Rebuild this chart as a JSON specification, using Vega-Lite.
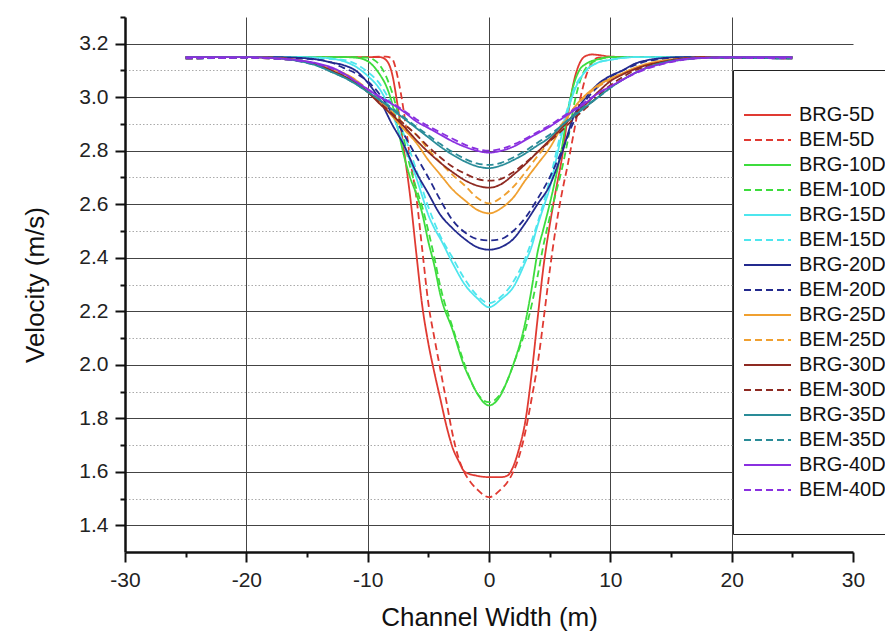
{
"$schema": "https://vega.github.io/schema/vega-lite/v6.json",
"width": 728, "height": 535,
"autosize": {"type": "none"},
"padding": {"left": 125, "top": 17, "right": 32, "bottom": 83},
"background": "white",
"config": {"view": {"stroke": null}, "font": "Liberation Sans",
 "legend": {"orient": "none", "legendX": 608, "legendY": 53, "direction": "vertical", "strokeColor": "#222", "fillColor": "white", "padding": 34, "cornerRadius": 0, "labelFontSize": 20, "labelColor": "#111", "labelFont": "Liberation Sans", "symbolType": "M-3.4,0H1.3", "symbolSize": 400, "symbolStrokeWidth": 1.8, "labelOffset": 10, "rowPadding": 4, "labelLimit": 300}},
"data": {"values": [
{"s":"BRG-5D","x":-25,"v":3.15},{"s":"BRG-5D","x":-20,"v":3.15},{"s":"BRG-5D","x":-15,"v":3.15},{"s":"BRG-5D","x":-12,"v":3.15},{"s":"BRG-5D","x":-10,"v":3.15},{"s":"BRG-5D","x":-9,"v":3.15},{"s":"BRG-5D","x":-8.5,"v":3.14},{"s":"BRG-5D","x":-8,"v":3.09},{"s":"BRG-5D","x":-7.5,"v":2.96},{"s":"BRG-5D","x":-7,"v":2.8},{"s":"BRG-5D","x":-6.5,"v":2.63},{"s":"BRG-5D","x":-6,"v":2.42},{"s":"BRG-5D","x":-5.5,"v":2.22},{"s":"BRG-5D","x":-5,"v":2.08},{"s":"BRG-5D","x":-4.5,"v":1.97},{"s":"BRG-5D","x":-4,"v":1.87},{"s":"BRG-5D","x":-3.5,"v":1.77},{"s":"BRG-5D","x":-3,"v":1.69},{"s":"BRG-5D","x":-2.5,"v":1.64},{"s":"BRG-5D","x":-2,"v":1.6},{"s":"BRG-5D","x":-1,"v":1.585},{"s":"BRG-5D","x":0,"v":1.58},{"s":"BRG-5D","x":1,"v":1.58},{"s":"BRG-5D","x":1.5,"v":1.585},{"s":"BRG-5D","x":2,"v":1.62},{"s":"BRG-5D","x":2.5,"v":1.69},{"s":"BRG-5D","x":3,"v":1.79},{"s":"BRG-5D","x":3.5,"v":1.96},{"s":"BRG-5D","x":4,"v":2.17},{"s":"BRG-5D","x":4.5,"v":2.37},{"s":"BRG-5D","x":5,"v":2.52},{"s":"BRG-5D","x":5.5,"v":2.65},{"s":"BRG-5D","x":6,"v":2.77},{"s":"BRG-5D","x":6.5,"v":2.93},{"s":"BRG-5D","x":7,"v":3.06},{"s":"BRG-5D","x":7.5,"v":3.13},{"s":"BRG-5D","x":8,"v":3.155},{"s":"BRG-5D","x":8.5,"v":3.16},{"s":"BRG-5D","x":9,"v":3.158},{"s":"BRG-5D","x":10,"v":3.152},{"s":"BRG-5D","x":12,"v":3.15},{"s":"BRG-5D","x":15,"v":3.15},{"s":"BRG-5D","x":20,"v":3.15},{"s":"BRG-5D","x":25,"v":3.15},
{"s":"BEM-5D","x":-25,"v":3.145},{"s":"BEM-5D","x":-20,"v":3.148},{"s":"BEM-5D","x":-15,"v":3.15},{"s":"BEM-5D","x":-12,"v":3.15},{"s":"BEM-5D","x":-10,"v":3.15},{"s":"BEM-5D","x":-9,"v":3.152},{"s":"BEM-5D","x":-8.5,"v":3.152},{"s":"BEM-5D","x":-8,"v":3.145},{"s":"BEM-5D","x":-7.5,"v":3.07},{"s":"BEM-5D","x":-7,"v":2.94},{"s":"BEM-5D","x":-6.5,"v":2.77},{"s":"BEM-5D","x":-6,"v":2.63},{"s":"BEM-5D","x":-5.5,"v":2.43},{"s":"BEM-5D","x":-5,"v":2.23},{"s":"BEM-5D","x":-4.5,"v":2.1},{"s":"BEM-5D","x":-4,"v":1.98},{"s":"BEM-5D","x":-3.5,"v":1.86},{"s":"BEM-5D","x":-3,"v":1.74},{"s":"BEM-5D","x":-2.5,"v":1.65},{"s":"BEM-5D","x":-2,"v":1.595},{"s":"BEM-5D","x":-1.5,"v":1.56},{"s":"BEM-5D","x":-1,"v":1.535},{"s":"BEM-5D","x":0,"v":1.505},{"s":"BEM-5D","x":1,"v":1.535},{"s":"BEM-5D","x":1.5,"v":1.56},{"s":"BEM-5D","x":2,"v":1.6},{"s":"BEM-5D","x":2.5,"v":1.66},{"s":"BEM-5D","x":3,"v":1.75},{"s":"BEM-5D","x":3.5,"v":1.87},{"s":"BEM-5D","x":4,"v":2.0},{"s":"BEM-5D","x":4.5,"v":2.17},{"s":"BEM-5D","x":5,"v":2.35},{"s":"BEM-5D","x":5.5,"v":2.51},{"s":"BEM-5D","x":6,"v":2.64},{"s":"BEM-5D","x":6.5,"v":2.75},{"s":"BEM-5D","x":7,"v":2.87},{"s":"BEM-5D","x":7.5,"v":2.99},{"s":"BEM-5D","x":8,"v":3.08},{"s":"BEM-5D","x":8.5,"v":3.13},{"s":"BEM-5D","x":9,"v":3.148},{"s":"BEM-5D","x":10,"v":3.15},{"s":"BEM-5D","x":12,"v":3.15},{"s":"BEM-5D","x":15,"v":3.15},{"s":"BEM-5D","x":20,"v":3.148},{"s":"BEM-5D","x":25,"v":3.145},
{"s":"BRG-10D","x":-25,"v":3.15},{"s":"BRG-10D","x":-20,"v":3.15},{"s":"BRG-10D","x":-15,"v":3.15},{"s":"BRG-10D","x":-12,"v":3.15},{"s":"BRG-10D","x":-11,"v":3.148},{"s":"BRG-10D","x":-10,"v":3.135},{"s":"BRG-10D","x":-9.5,"v":3.115},{"s":"BRG-10D","x":-9,"v":3.085},{"s":"BRG-10D","x":-8.5,"v":3.045},{"s":"BRG-10D","x":-8,"v":2.98},{"s":"BRG-10D","x":-7.5,"v":2.88},{"s":"BRG-10D","x":-7,"v":2.78},{"s":"BRG-10D","x":-6.5,"v":2.7},{"s":"BRG-10D","x":-6,"v":2.64},{"s":"BRG-10D","x":-5.5,"v":2.565},{"s":"BRG-10D","x":-5,"v":2.46},{"s":"BRG-10D","x":-4.5,"v":2.37},{"s":"BRG-10D","x":-4,"v":2.26},{"s":"BRG-10D","x":-3,"v":2.13},{"s":"BRG-10D","x":-2,"v":1.99},{"s":"BRG-10D","x":-1.5,"v":1.94},{"s":"BRG-10D","x":-1,"v":1.895},{"s":"BRG-10D","x":0,"v":1.848},{"s":"BRG-10D","x":1,"v":1.89},{"s":"BRG-10D","x":1.5,"v":1.94},{"s":"BRG-10D","x":2,"v":2.0},{"s":"BRG-10D","x":3,"v":2.16},{"s":"BRG-10D","x":3.5,"v":2.28},{"s":"BRG-10D","x":4,"v":2.42},{"s":"BRG-10D","x":4.5,"v":2.51},{"s":"BRG-10D","x":5,"v":2.6},{"s":"BRG-10D","x":5.5,"v":2.7},{"s":"BRG-10D","x":6,"v":2.81},{"s":"BRG-10D","x":6.5,"v":2.95},{"s":"BRG-10D","x":7,"v":3.05},{"s":"BRG-10D","x":7.5,"v":3.105},{"s":"BRG-10D","x":8,"v":3.125},{"s":"BRG-10D","x":9,"v":3.142},{"s":"BRG-10D","x":10,"v":3.15},{"s":"BRG-10D","x":12,"v":3.15},{"s":"BRG-10D","x":15,"v":3.15},{"s":"BRG-10D","x":20,"v":3.15},{"s":"BRG-10D","x":25,"v":3.15},
{"s":"BEM-10D","x":-25,"v":3.145},{"s":"BEM-10D","x":-20,"v":3.148},{"s":"BEM-10D","x":-15,"v":3.15},{"s":"BEM-10D","x":-12,"v":3.15},{"s":"BEM-10D","x":-11,"v":3.15},{"s":"BEM-10D","x":-10,"v":3.148},{"s":"BEM-10D","x":-9.5,"v":3.14},{"s":"BEM-10D","x":-9,"v":3.12},{"s":"BEM-10D","x":-8.5,"v":3.08},{"s":"BEM-10D","x":-8,"v":3.02},{"s":"BEM-10D","x":-7.5,"v":2.94},{"s":"BEM-10D","x":-7,"v":2.84},{"s":"BEM-10D","x":-6.5,"v":2.74},{"s":"BEM-10D","x":-6,"v":2.66},{"s":"BEM-10D","x":-5.5,"v":2.59},{"s":"BEM-10D","x":-5,"v":2.5},{"s":"BEM-10D","x":-4.5,"v":2.4},{"s":"BEM-10D","x":-4,"v":2.29},{"s":"BEM-10D","x":-3,"v":2.14},{"s":"BEM-10D","x":-2,"v":2.0},{"s":"BEM-10D","x":-1.5,"v":1.94},{"s":"BEM-10D","x":-1,"v":1.895},{"s":"BEM-10D","x":0,"v":1.86},{"s":"BEM-10D","x":1,"v":1.895},{"s":"BEM-10D","x":1.5,"v":1.94},{"s":"BEM-10D","x":2,"v":2.0},{"s":"BEM-10D","x":3,"v":2.13},{"s":"BEM-10D","x":3.5,"v":2.22},{"s":"BEM-10D","x":4,"v":2.33},{"s":"BEM-10D","x":4.5,"v":2.45},{"s":"BEM-10D","x":5,"v":2.55},{"s":"BEM-10D","x":5.5,"v":2.64},{"s":"BEM-10D","x":6,"v":2.73},{"s":"BEM-10D","x":6.5,"v":2.84},{"s":"BEM-10D","x":7,"v":2.97},{"s":"BEM-10D","x":7.5,"v":3.06},{"s":"BEM-10D","x":8,"v":3.11},{"s":"BEM-10D","x":9,"v":3.14},{"s":"BEM-10D","x":10,"v":3.15},{"s":"BEM-10D","x":12,"v":3.15},{"s":"BEM-10D","x":15,"v":3.15},{"s":"BEM-10D","x":20,"v":3.148},{"s":"BEM-10D","x":25,"v":3.145},
{"s":"BRG-15D","x":-25,"v":3.15},{"s":"BRG-15D","x":-20,"v":3.15},{"s":"BRG-15D","x":-18,"v":3.15},{"s":"BRG-15D","x":-16,"v":3.15},{"s":"BRG-15D","x":-14,"v":3.148},{"s":"BRG-15D","x":-13,"v":3.145},{"s":"BRG-15D","x":-12,"v":3.135},{"s":"BRG-15D","x":-11,"v":3.115},{"s":"BRG-15D","x":-10,"v":3.08},{"s":"BRG-15D","x":-9,"v":3.03},{"s":"BRG-15D","x":-8,"v":2.94},{"s":"BRG-15D","x":-7,"v":2.82},{"s":"BRG-15D","x":-6,"v":2.7},{"s":"BRG-15D","x":-5.5,"v":2.63},{"s":"BRG-15D","x":-5,"v":2.56},{"s":"BRG-15D","x":-4.5,"v":2.51},{"s":"BRG-15D","x":-4,"v":2.47},{"s":"BRG-15D","x":-3,"v":2.38},{"s":"BRG-15D","x":-2,"v":2.3},{"s":"BRG-15D","x":-1,"v":2.25},{"s":"BRG-15D","x":0,"v":2.215},{"s":"BRG-15D","x":1,"v":2.245},{"s":"BRG-15D","x":2,"v":2.29},{"s":"BRG-15D","x":3,"v":2.385},{"s":"BRG-15D","x":3.5,"v":2.44},{"s":"BRG-15D","x":4,"v":2.52},{"s":"BRG-15D","x":4.5,"v":2.59},{"s":"BRG-15D","x":5,"v":2.66},{"s":"BRG-15D","x":5.5,"v":2.76},{"s":"BRG-15D","x":6,"v":2.86},{"s":"BRG-15D","x":6.5,"v":2.95},{"s":"BRG-15D","x":7,"v":3.02},{"s":"BRG-15D","x":8,"v":3.1},{"s":"BRG-15D","x":9,"v":3.13},{"s":"BRG-15D","x":10,"v":3.14},{"s":"BRG-15D","x":11,"v":3.147},{"s":"BRG-15D","x":12,"v":3.15},{"s":"BRG-15D","x":14,"v":3.15},{"s":"BRG-15D","x":16,"v":3.15},{"s":"BRG-15D","x":20,"v":3.15},{"s":"BRG-15D","x":25,"v":3.15},
{"s":"BEM-15D","x":-25,"v":3.145},{"s":"BEM-15D","x":-20,"v":3.148},{"s":"BEM-15D","x":-18,"v":3.15},{"s":"BEM-15D","x":-16,"v":3.15},{"s":"BEM-15D","x":-14,"v":3.147},{"s":"BEM-15D","x":-13,"v":3.143},{"s":"BEM-15D","x":-12,"v":3.14},{"s":"BEM-15D","x":-11,"v":3.125},{"s":"BEM-15D","x":-10,"v":3.095},{"s":"BEM-15D","x":-9,"v":3.05},{"s":"BEM-15D","x":-8,"v":2.97},{"s":"BEM-15D","x":-7,"v":2.86},{"s":"BEM-15D","x":-6,"v":2.73},{"s":"BEM-15D","x":-5,"v":2.59},{"s":"BEM-15D","x":-4,"v":2.48},{"s":"BEM-15D","x":-3,"v":2.4},{"s":"BEM-15D","x":-2,"v":2.32},{"s":"BEM-15D","x":-1,"v":2.26},{"s":"BEM-15D","x":0,"v":2.23},{"s":"BEM-15D","x":1,"v":2.255},{"s":"BEM-15D","x":2,"v":2.31},{"s":"BEM-15D","x":3,"v":2.4},{"s":"BEM-15D","x":4,"v":2.53},{"s":"BEM-15D","x":5,"v":2.69},{"s":"BEM-15D","x":6,"v":2.88},{"s":"BEM-15D","x":7,"v":3.03},{"s":"BEM-15D","x":8,"v":3.1},{"s":"BEM-15D","x":9,"v":3.13},{"s":"BEM-15D","x":10,"v":3.14},{"s":"BEM-15D","x":11,"v":3.147},{"s":"BEM-15D","x":12,"v":3.15},{"s":"BEM-15D","x":14,"v":3.15},{"s":"BEM-15D","x":16,"v":3.15},{"s":"BEM-15D","x":20,"v":3.148},{"s":"BEM-15D","x":25,"v":3.145},
{"s":"BRG-20D","x":-25,"v":3.15},{"s":"BRG-20D","x":-20,"v":3.15},{"s":"BRG-20D","x":-18,"v":3.15},{"s":"BRG-20D","x":-16,"v":3.148},{"s":"BRG-20D","x":-14,"v":3.14},{"s":"BRG-20D","x":-13,"v":3.13},{"s":"BRG-20D","x":-12,"v":3.12},{"s":"BRG-20D","x":-11,"v":3.1},{"s":"BRG-20D","x":-10,"v":3.055},{"s":"BRG-20D","x":-9,"v":2.99},{"s":"BRG-20D","x":-8,"v":2.9},{"s":"BRG-20D","x":-7,"v":2.82},{"s":"BRG-20D","x":-6,"v":2.72},{"s":"BRG-20D","x":-5,"v":2.64},{"s":"BRG-20D","x":-4,"v":2.56},{"s":"BRG-20D","x":-3,"v":2.51},{"s":"BRG-20D","x":-2,"v":2.47},{"s":"BRG-20D","x":-1,"v":2.44},{"s":"BRG-20D","x":0,"v":2.43},{"s":"BRG-20D","x":1,"v":2.44},{"s":"BRG-20D","x":2,"v":2.47},{"s":"BRG-20D","x":3,"v":2.53},{"s":"BRG-20D","x":4,"v":2.6},{"s":"BRG-20D","x":5,"v":2.67},{"s":"BRG-20D","x":6,"v":2.79},{"s":"BRG-20D","x":7,"v":2.93},{"s":"BRG-20D","x":8,"v":3.0},{"s":"BRG-20D","x":9,"v":3.05},{"s":"BRG-20D","x":10,"v":3.08},{"s":"BRG-20D","x":11,"v":3.1},{"s":"BRG-20D","x":12,"v":3.125},{"s":"BRG-20D","x":13,"v":3.138},{"s":"BRG-20D","x":14,"v":3.145},{"s":"BRG-20D","x":16,"v":3.15},{"s":"BRG-20D","x":18,"v":3.15},{"s":"BRG-20D","x":20,"v":3.15},{"s":"BRG-20D","x":25,"v":3.15},
{"s":"BEM-20D","x":-25,"v":3.145},{"s":"BEM-20D","x":-20,"v":3.148},{"s":"BEM-20D","x":-18,"v":3.148},{"s":"BEM-20D","x":-16,"v":3.145},{"s":"BEM-20D","x":-14,"v":3.14},{"s":"BEM-20D","x":-13,"v":3.13},{"s":"BEM-20D","x":-12,"v":3.11},{"s":"BEM-20D","x":-11,"v":3.09},{"s":"BEM-20D","x":-10,"v":3.06},{"s":"BEM-20D","x":-9,"v":3.01},{"s":"BEM-20D","x":-8,"v":2.94},{"s":"BEM-20D","x":-7,"v":2.86},{"s":"BEM-20D","x":-6,"v":2.78},{"s":"BEM-20D","x":-5,"v":2.7},{"s":"BEM-20D","x":-4,"v":2.615},{"s":"BEM-20D","x":-3,"v":2.54},{"s":"BEM-20D","x":-2,"v":2.495},{"s":"BEM-20D","x":-1,"v":2.47},{"s":"BEM-20D","x":0,"v":2.465},{"s":"BEM-20D","x":1,"v":2.47},{"s":"BEM-20D","x":2,"v":2.5},{"s":"BEM-20D","x":3,"v":2.55},{"s":"BEM-20D","x":4,"v":2.62},{"s":"BEM-20D","x":5,"v":2.7},{"s":"BEM-20D","x":6,"v":2.8},{"s":"BEM-20D","x":7,"v":2.91},{"s":"BEM-20D","x":8,"v":2.99},{"s":"BEM-20D","x":9,"v":3.04},{"s":"BEM-20D","x":10,"v":3.075},{"s":"BEM-20D","x":11,"v":3.1},{"s":"BEM-20D","x":12,"v":3.12},{"s":"BEM-20D","x":13,"v":3.135},{"s":"BEM-20D","x":14,"v":3.142},{"s":"BEM-20D","x":16,"v":3.148},{"s":"BEM-20D","x":18,"v":3.15},{"s":"BEM-20D","x":20,"v":3.148},{"s":"BEM-20D","x":25,"v":3.145},
{"s":"BRG-25D","x":-25,"v":3.15},{"s":"BRG-25D","x":-20,"v":3.15},{"s":"BRG-25D","x":-18,"v":3.148},{"s":"BRG-25D","x":-16,"v":3.14},{"s":"BRG-25D","x":-14,"v":3.12},{"s":"BRG-25D","x":-13,"v":3.105},{"s":"BRG-25D","x":-12,"v":3.09},{"s":"BRG-25D","x":-11,"v":3.065},{"s":"BRG-25D","x":-10,"v":3.02},{"s":"BRG-25D","x":-9,"v":2.98},{"s":"BRG-25D","x":-8,"v":2.93},{"s":"BRG-25D","x":-7,"v":2.88},{"s":"BRG-25D","x":-6,"v":2.83},{"s":"BRG-25D","x":-5,"v":2.765},{"s":"BRG-25D","x":-4,"v":2.71},{"s":"BRG-25D","x":-3,"v":2.655},{"s":"BRG-25D","x":-2,"v":2.615},{"s":"BRG-25D","x":-1,"v":2.58},{"s":"BRG-25D","x":0,"v":2.566},{"s":"BRG-25D","x":1,"v":2.585},{"s":"BRG-25D","x":2,"v":2.625},{"s":"BRG-25D","x":3,"v":2.69},{"s":"BRG-25D","x":4,"v":2.75},{"s":"BRG-25D","x":5,"v":2.81},{"s":"BRG-25D","x":6,"v":2.89},{"s":"BRG-25D","x":7,"v":2.96},{"s":"BRG-25D","x":8,"v":3.01},{"s":"BRG-25D","x":9,"v":3.045},{"s":"BRG-25D","x":10,"v":3.07},{"s":"BRG-25D","x":11,"v":3.09},{"s":"BRG-25D","x":12,"v":3.11},{"s":"BRG-25D","x":13,"v":3.125},{"s":"BRG-25D","x":14,"v":3.135},{"s":"BRG-25D","x":16,"v":3.145},{"s":"BRG-25D","x":18,"v":3.15},{"s":"BRG-25D","x":20,"v":3.15},{"s":"BRG-25D","x":25,"v":3.15},
{"s":"BEM-25D","x":-25,"v":3.145},{"s":"BEM-25D","x":-20,"v":3.148},{"s":"BEM-25D","x":-18,"v":3.145},{"s":"BEM-25D","x":-16,"v":3.14},{"s":"BEM-25D","x":-14,"v":3.12},{"s":"BEM-25D","x":-13,"v":3.105},{"s":"BEM-25D","x":-12,"v":3.09},{"s":"BEM-25D","x":-11,"v":3.065},{"s":"BEM-25D","x":-10,"v":3.03},{"s":"BEM-25D","x":-9,"v":2.99},{"s":"BEM-25D","x":-8,"v":2.945},{"s":"BEM-25D","x":-7,"v":2.9},{"s":"BEM-25D","x":-6,"v":2.86},{"s":"BEM-25D","x":-5,"v":2.805},{"s":"BEM-25D","x":-4,"v":2.755},{"s":"BEM-25D","x":-3,"v":2.71},{"s":"BEM-25D","x":-2,"v":2.67},{"s":"BEM-25D","x":-1,"v":2.625},{"s":"BEM-25D","x":0,"v":2.603},{"s":"BEM-25D","x":1,"v":2.625},{"s":"BEM-25D","x":2,"v":2.665},{"s":"BEM-25D","x":3,"v":2.72},{"s":"BEM-25D","x":4,"v":2.78},{"s":"BEM-25D","x":5,"v":2.835},{"s":"BEM-25D","x":6,"v":2.9},{"s":"BEM-25D","x":7,"v":2.96},{"s":"BEM-25D","x":8,"v":3.005},{"s":"BEM-25D","x":9,"v":3.04},{"s":"BEM-25D","x":10,"v":3.065},{"s":"BEM-25D","x":11,"v":3.085},{"s":"BEM-25D","x":12,"v":3.105},{"s":"BEM-25D","x":13,"v":3.12},{"s":"BEM-25D","x":14,"v":3.13},{"s":"BEM-25D","x":16,"v":3.142},{"s":"BEM-25D","x":18,"v":3.148},{"s":"BEM-25D","x":20,"v":3.148},{"s":"BEM-25D","x":25,"v":3.145},
{"s":"BRG-30D","x":-25,"v":3.15},{"s":"BRG-30D","x":-20,"v":3.15},{"s":"BRG-30D","x":-18,"v":3.148},{"s":"BRG-30D","x":-16,"v":3.14},{"s":"BRG-30D","x":-14,"v":3.12},{"s":"BRG-30D","x":-13,"v":3.1},{"s":"BRG-30D","x":-12,"v":3.08},{"s":"BRG-30D","x":-11,"v":3.055},{"s":"BRG-30D","x":-10,"v":3.02},{"s":"BRG-30D","x":-9,"v":2.975},{"s":"BRG-30D","x":-8,"v":2.935},{"s":"BRG-30D","x":-7,"v":2.89},{"s":"BRG-30D","x":-6,"v":2.84},{"s":"BRG-30D","x":-5,"v":2.795},{"s":"BRG-30D","x":-4,"v":2.755},{"s":"BRG-30D","x":-3,"v":2.72},{"s":"BRG-30D","x":-2,"v":2.69},{"s":"BRG-30D","x":-1,"v":2.67},{"s":"BRG-30D","x":0,"v":2.662},{"s":"BRG-30D","x":1,"v":2.675},{"s":"BRG-30D","x":2,"v":2.71},{"s":"BRG-30D","x":3,"v":2.75},{"s":"BRG-30D","x":4,"v":2.795},{"s":"BRG-30D","x":5,"v":2.84},{"s":"BRG-30D","x":6,"v":2.885},{"s":"BRG-30D","x":7,"v":2.935},{"s":"BRG-30D","x":8,"v":2.975},{"s":"BRG-30D","x":9,"v":3.02},{"s":"BRG-30D","x":10,"v":3.06},{"s":"BRG-30D","x":11,"v":3.085},{"s":"BRG-30D","x":12,"v":3.105},{"s":"BRG-30D","x":13,"v":3.12},{"s":"BRG-30D","x":14,"v":3.13},{"s":"BRG-30D","x":16,"v":3.145},{"s":"BRG-30D","x":18,"v":3.15},{"s":"BRG-30D","x":20,"v":3.15},{"s":"BRG-30D","x":25,"v":3.15},
{"s":"BEM-30D","x":-25,"v":3.145},{"s":"BEM-30D","x":-20,"v":3.148},{"s":"BEM-30D","x":-18,"v":3.145},{"s":"BEM-30D","x":-16,"v":3.138},{"s":"BEM-30D","x":-14,"v":3.12},{"s":"BEM-30D","x":-13,"v":3.1},{"s":"BEM-30D","x":-12,"v":3.08},{"s":"BEM-30D","x":-11,"v":3.055},{"s":"BEM-30D","x":-10,"v":3.02},{"s":"BEM-30D","x":-9,"v":2.98},{"s":"BEM-30D","x":-8,"v":2.94},{"s":"BEM-30D","x":-7,"v":2.9},{"s":"BEM-30D","x":-6,"v":2.86},{"s":"BEM-30D","x":-5,"v":2.815},{"s":"BEM-30D","x":-4,"v":2.775},{"s":"BEM-30D","x":-3,"v":2.74},{"s":"BEM-30D","x":-2,"v":2.715},{"s":"BEM-30D","x":-1,"v":2.695},{"s":"BEM-30D","x":0,"v":2.688},{"s":"BEM-30D","x":1,"v":2.695},{"s":"BEM-30D","x":2,"v":2.72},{"s":"BEM-30D","x":3,"v":2.755},{"s":"BEM-30D","x":4,"v":2.795},{"s":"BEM-30D","x":5,"v":2.835},{"s":"BEM-30D","x":6,"v":2.875},{"s":"BEM-30D","x":7,"v":2.92},{"s":"BEM-30D","x":8,"v":2.96},{"s":"BEM-30D","x":9,"v":3.005},{"s":"BEM-30D","x":10,"v":3.045},{"s":"BEM-30D","x":11,"v":3.075},{"s":"BEM-30D","x":12,"v":3.1},{"s":"BEM-30D","x":13,"v":3.115},{"s":"BEM-30D","x":14,"v":3.128},{"s":"BEM-30D","x":16,"v":3.142},{"s":"BEM-30D","x":18,"v":3.148},{"s":"BEM-30D","x":20,"v":3.148},{"s":"BEM-30D","x":25,"v":3.145},
{"s":"BRG-35D","x":-25,"v":3.15},{"s":"BRG-35D","x":-20,"v":3.15},{"s":"BRG-35D","x":-18,"v":3.147},{"s":"BRG-35D","x":-16,"v":3.138},{"s":"BRG-35D","x":-14,"v":3.115},{"s":"BRG-35D","x":-13,"v":3.095},{"s":"BRG-35D","x":-12,"v":3.075},{"s":"BRG-35D","x":-11,"v":3.05},{"s":"BRG-35D","x":-10,"v":3.02},{"s":"BRG-35D","x":-9,"v":2.99},{"s":"BRG-35D","x":-8,"v":2.955},{"s":"BRG-35D","x":-7,"v":2.92},{"s":"BRG-35D","x":-6,"v":2.885},{"s":"BRG-35D","x":-5,"v":2.85},{"s":"BRG-35D","x":-4,"v":2.815},{"s":"BRG-35D","x":-3,"v":2.785},{"s":"BRG-35D","x":-2,"v":2.76},{"s":"BRG-35D","x":-1,"v":2.742},{"s":"BRG-35D","x":0,"v":2.735},{"s":"BRG-35D","x":1,"v":2.745},{"s":"BRG-35D","x":2,"v":2.765},{"s":"BRG-35D","x":3,"v":2.79},{"s":"BRG-35D","x":4,"v":2.82},{"s":"BRG-35D","x":5,"v":2.85},{"s":"BRG-35D","x":6,"v":2.895},{"s":"BRG-35D","x":7,"v":2.93},{"s":"BRG-35D","x":8,"v":2.965},{"s":"BRG-35D","x":9,"v":3.0},{"s":"BRG-35D","x":10,"v":3.035},{"s":"BRG-35D","x":11,"v":3.065},{"s":"BRG-35D","x":12,"v":3.09},{"s":"BRG-35D","x":13,"v":3.11},{"s":"BRG-35D","x":14,"v":3.125},{"s":"BRG-35D","x":16,"v":3.142},{"s":"BRG-35D","x":18,"v":3.148},{"s":"BRG-35D","x":20,"v":3.15},{"s":"BRG-35D","x":25,"v":3.15},
{"s":"BEM-35D","x":-25,"v":3.145},{"s":"BEM-35D","x":-20,"v":3.147},{"s":"BEM-35D","x":-18,"v":3.145},{"s":"BEM-35D","x":-16,"v":3.137},{"s":"BEM-35D","x":-14,"v":3.115},{"s":"BEM-35D","x":-13,"v":3.095},{"s":"BEM-35D","x":-12,"v":3.075},{"s":"BEM-35D","x":-11,"v":3.05},{"s":"BEM-35D","x":-10,"v":3.02},{"s":"BEM-35D","x":-9,"v":2.99},{"s":"BEM-35D","x":-8,"v":2.96},{"s":"BEM-35D","x":-7,"v":2.925},{"s":"BEM-35D","x":-6,"v":2.89},{"s":"BEM-35D","x":-5,"v":2.858},{"s":"BEM-35D","x":-4,"v":2.825},{"s":"BEM-35D","x":-3,"v":2.795},{"s":"BEM-35D","x":-2,"v":2.77},{"s":"BEM-35D","x":-1,"v":2.753},{"s":"BEM-35D","x":0,"v":2.747},{"s":"BEM-35D","x":1,"v":2.755},{"s":"BEM-35D","x":2,"v":2.775},{"s":"BEM-35D","x":3,"v":2.8},{"s":"BEM-35D","x":4,"v":2.83},{"s":"BEM-35D","x":5,"v":2.86},{"s":"BEM-35D","x":6,"v":2.895},{"s":"BEM-35D","x":7,"v":2.935},{"s":"BEM-35D","x":8,"v":2.97},{"s":"BEM-35D","x":9,"v":3.0},{"s":"BEM-35D","x":10,"v":3.035},{"s":"BEM-35D","x":11,"v":3.065},{"s":"BEM-35D","x":12,"v":3.09},{"s":"BEM-35D","x":13,"v":3.11},{"s":"BEM-35D","x":14,"v":3.125},{"s":"BEM-35D","x":16,"v":3.14},{"s":"BEM-35D","x":18,"v":3.147},{"s":"BEM-35D","x":20,"v":3.147},{"s":"BEM-35D","x":25,"v":3.145},
{"s":"BRG-40D","x":-25,"v":3.15},{"s":"BRG-40D","x":-20,"v":3.15},{"s":"BRG-40D","x":-18,"v":3.147},{"s":"BRG-40D","x":-16,"v":3.14},{"s":"BRG-40D","x":-14,"v":3.125},{"s":"BRG-40D","x":-13,"v":3.112},{"s":"BRG-40D","x":-12,"v":3.09},{"s":"BRG-40D","x":-11,"v":3.06},{"s":"BRG-40D","x":-10,"v":3.03},{"s":"BRG-40D","x":-9,"v":3.0},{"s":"BRG-40D","x":-8,"v":2.975},{"s":"BRG-40D","x":-7,"v":2.945},{"s":"BRG-40D","x":-6,"v":2.91},{"s":"BRG-40D","x":-5,"v":2.885},{"s":"BRG-40D","x":-4,"v":2.86},{"s":"BRG-40D","x":-3,"v":2.835},{"s":"BRG-40D","x":-2,"v":2.815},{"s":"BRG-40D","x":-1,"v":2.8},{"s":"BRG-40D","x":0,"v":2.793},{"s":"BRG-40D","x":1,"v":2.8},{"s":"BRG-40D","x":2,"v":2.815},{"s":"BRG-40D","x":3,"v":2.84},{"s":"BRG-40D","x":4,"v":2.865},{"s":"BRG-40D","x":5,"v":2.89},{"s":"BRG-40D","x":6,"v":2.92},{"s":"BRG-40D","x":7,"v":2.95},{"s":"BRG-40D","x":8,"v":2.98},{"s":"BRG-40D","x":9,"v":3.015},{"s":"BRG-40D","x":10,"v":3.04},{"s":"BRG-40D","x":11,"v":3.065},{"s":"BRG-40D","x":12,"v":3.09},{"s":"BRG-40D","x":13,"v":3.11},{"s":"BRG-40D","x":14,"v":3.122},{"s":"BRG-40D","x":16,"v":3.142},{"s":"BRG-40D","x":18,"v":3.148},{"s":"BRG-40D","x":20,"v":3.15},{"s":"BRG-40D","x":25,"v":3.15},
{"s":"BEM-40D","x":-25,"v":3.145},{"s":"BEM-40D","x":-20,"v":3.147},{"s":"BEM-40D","x":-18,"v":3.145},{"s":"BEM-40D","x":-16,"v":3.138},{"s":"BEM-40D","x":-14,"v":3.122},{"s":"BEM-40D","x":-13,"v":3.108},{"s":"BEM-40D","x":-12,"v":3.088},{"s":"BEM-40D","x":-11,"v":3.06},{"s":"BEM-40D","x":-10,"v":3.03},{"s":"BEM-40D","x":-9,"v":3.003},{"s":"BEM-40D","x":-8,"v":2.978},{"s":"BEM-40D","x":-7,"v":2.95},{"s":"BEM-40D","x":-6,"v":2.918},{"s":"BEM-40D","x":-5,"v":2.892},{"s":"BEM-40D","x":-4,"v":2.868},{"s":"BEM-40D","x":-3,"v":2.845},{"s":"BEM-40D","x":-2,"v":2.823},{"s":"BEM-40D","x":-1,"v":2.807},{"s":"BEM-40D","x":0,"v":2.8},{"s":"BEM-40D","x":1,"v":2.807},{"s":"BEM-40D","x":2,"v":2.823},{"s":"BEM-40D","x":3,"v":2.845},{"s":"BEM-40D","x":4,"v":2.87},{"s":"BEM-40D","x":5,"v":2.895},{"s":"BEM-40D","x":6,"v":2.925},{"s":"BEM-40D","x":7,"v":2.955},{"s":"BEM-40D","x":8,"v":2.985},{"s":"BEM-40D","x":9,"v":3.015},{"s":"BEM-40D","x":10,"v":3.04},{"s":"BEM-40D","x":11,"v":3.065},{"s":"BEM-40D","x":12,"v":3.088},{"s":"BEM-40D","x":13,"v":3.106},{"s":"BEM-40D","x":14,"v":3.12},{"s":"BEM-40D","x":16,"v":3.14},{"s":"BEM-40D","x":18,"v":3.147},{"s":"BEM-40D","x":20,"v":3.147},{"s":"BEM-40D","x":25,"v":3.145}
]},
"mark": {"type": "line", "strokeWidth": 1.8, "interpolate": "monotone", "clip": true},
"encoding": {
 "x": {"field": "x", "type": "quantitative", "sort": null,
  "scale": {"domain": [-30, 30], "nice": false, "zero": false},
  "axis": {"values": [-30,-25,-20,-15,-10,-5,0,5,10,15,20,25,30],
   "title": "Channel Width (m)", "titleFontSize": 26, "titleFontWeight": "normal", "titleColor": "#111", "titlePadding": 14,
   "labelFontSize": 21, "labelColor": "#222", "labelPadding": 7, "labelFlush": false, "labelOverlap": false,
   "labelExpr": "datum.value % 10 == 0 ? '' + datum.value : ''",
   "tickSize": {"condition": {"test": "datum.value % 10 != 0", "value": 5}, "value": 10},
   "tickWidth": 2, "tickColor": "#111", "domainColor": "#111", "domainWidth": 2.5,
   "grid": true, "gridColor": "#444", "gridWidth": 1,
   "gridOpacity": {"condition": {"test": "datum.value % 10 != 0 || abs(datum.value) == 30", "value": 0}, "value": 1}}},
 "y": {"field": "v", "type": "quantitative",
  "scale": {"domain": [1.3, 3.3], "nice": false, "zero": false},
  "axis": {"values": [1.4,1.5,1.6,1.7,1.8,1.9,2.0,2.1,2.2,2.3,2.4,2.5,2.6,2.7,2.8,2.9,3.0,3.1,3.2,3.3],
   "title": "Velocity (m/s)", "titleFontSize": 26, "titleFontWeight": "normal", "titleColor": "#111", "titlePadding": 30,
   "labelFontSize": 21, "labelColor": "#222", "labelPadding": 7, "labelFlush": false, "labelOverlap": false,
   "labelExpr": "round(datum.value*10) % 2 == 0 ? format(datum.value, '.1f') : ''",
   "tickSize": {"condition": {"test": "round(datum.value*10) % 2 == 1", "value": 5}, "value": 10},
   "tickWidth": 2, "tickColor": "#111", "domainColor": "#111", "domainWidth": 2.5,
   "grid": true, "gridWidth": 1,
   "gridColor": {"condition": {"test": "round(datum.value*10) % 2 == 1", "value": "#aaaaaa"}, "value": "#444444"},
   "gridDash": {"condition": {"test": "round(datum.value*10) % 2 == 1", "value": [1.5, 2]}, "value": []},
   "gridOpacity": {"condition": {"test": "datum.value > 3.25", "value": 0}, "value": 1}}},
 "color": {"field": "s", "type": "nominal",
  "scale": {"domain": ["BRG-5D","BEM-5D","BRG-10D","BEM-10D","BRG-15D","BEM-15D","BRG-20D","BEM-20D","BRG-25D","BEM-25D","BRG-30D","BEM-30D","BRG-35D","BEM-35D","BRG-40D","BEM-40D"],
   "range": ["#e03a32","#e03a32","#3ddc3d","#3ddc3d","#4ee6ee","#4ee6ee","#232a8e","#232a8e","#f0a030","#f0a030","#8e2a22","#8e2a22","#2a8c98","#2a8c98","#8a30e0","#8a30e0"]},
  "legend": {"title": null}},
 "strokeDash": {"field": "s", "type": "nominal",
  "scale": {"domain": ["BRG-5D","BEM-5D","BRG-10D","BEM-10D","BRG-15D","BEM-15D","BRG-20D","BEM-20D","BRG-25D","BEM-25D","BRG-30D","BEM-30D","BRG-35D","BEM-35D","BRG-40D","BEM-40D"],
   "range": [[1,0],[7,4],[1,0],[7,4],[1,0],[7,4],[1,0],[7,4],[1,0],[7,4],[1,0],[7,4],[1,0],[7,4],[1,0],[7,4]]},
  "legend": {"title": null}}
}
}
